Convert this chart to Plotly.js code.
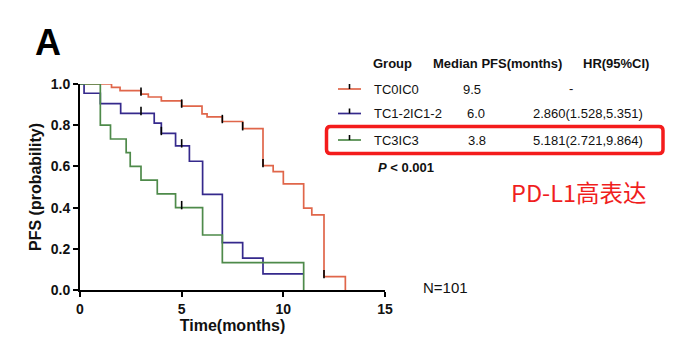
<!DOCTYPE html>
<html>
<head>
<meta charset="utf-8">
<script src="https://cdn.plot.ly/plotly-3.0.1.min.js"></script>
<style>html,body{margin:0;padding:0;background:#fff;}#chart{width:676px;height:351px;}</style>
</head>
<body>
<div id="chart"></div>
<script>
// ---- data ----
const redT   = [0, 1.55, 1.97, 3.0, 3.36, 4.0, 5.0, 6.0, 6.25, 7.0, 8.0, 9.0, 9.5, 10.0, 11.0, 11.4, 12.0, 13.05];
const redS   = [1.0, 0.984, 0.968, 0.951, 0.937, 0.918, 0.893, 0.855, 0.84, 0.818, 0.783, 0.604, 0.575, 0.515, 0.397, 0.365, 0.065, 0.0];
const blueT  = [0, 0.2, 1.0, 2.0, 3.65, 4.0, 4.7, 5.38, 6.03, 7.0, 8.0, 9.0, 11.0];
const blueS  = [1.0, 0.955, 0.905, 0.857, 0.81, 0.76, 0.70, 0.625, 0.464, 0.23, 0.155, 0.078, 0.078];
const greenT = [0, 1.0, 1.5, 2.27, 2.47, 3.0, 3.8, 4.7, 6.03, 7.0, 11.0];
const greenS = [1.0, 0.8, 0.733, 0.667, 0.6, 0.533, 0.467, 0.4, 0.267, 0.133, 0.0];

const redCT = [3.0, 5.0, 7.0, 8.0, 9.0, 12.0];
const redCS = [0.951, 0.893, 0.818, 0.783, 0.604, 0.065];
const blueCT = [3.0, 4.0, 5.0];
const blueCS = [0.857, 0.76, 0.70];
const greenCT = [5.0];
const greenCS = [0.4];

const groups   = ["TC0IC0", "TC1-2IC1-2", "TC3IC3"];
const medians  = ["9.5", "6.0", "3.8"];
const hrs      = ["-", "2.860(1.528,5.351)", "5.181(2.721,9.864)"];
const headers  = ["Group", "Median PFS(months)", "HR(95%CI)"];
const xTicks   = [0, 5, 10, 15];
const yTicks   = [0, 0.2, 0.4, 0.6, 0.8, 1.0];
const yTickText = ["0.0", "0.2", "0.4", "0.6", "0.8", "1.0"];

// ---- styling ----
const colors = ["#E0664A", "#35298C", "#4E8A4A"];
const FONT = "Arial, 'Liberation Sans', sans-serif";
const L = 80, R = 291, T = 84, B = 61, W = 676, H = 351;
const pw = W - L - R, ph = H - T - B;
const px = x => (x - L) / pw;
const py = y => (H - B - y) / ph;

function curve(t, s, c) {
  return {x: t, y: s, type: 'scatter', mode: 'lines', line: {shape: 'hv', color: c, width: 1.7},
          cliponaxis: false, hoverinfo: 'skip', showlegend: false};
}
function cens(t, s) {
  return {x: t, y: s.map(v => v + 0.012), type: 'scatter', mode: 'markers', cliponaxis: false,
          marker: {symbol: 'line-ns', size: 6, line: {color: '#000', width: 1.6}}, hoverinfo: 'skip', showlegend: false};
}

const data = [
  curve(redT, redS, colors[0]),
  curve(blueT, blueS, colors[1]),
  curve(greenT, greenS, colors[2]),
  cens(redCT, redCS), cens(blueCT, blueCS), cens(greenCT, greenCS)
];

const annotations = [];
const shapes = [];
function txt(text, x, y, size, opts) {
  annotations.push(Object.assign({text: text, xref: 'paper', yref: 'paper', x: px(x), y: py(y),
    showarrow: false, xanchor: 'left', yanchor: 'middle',
    font: {family: FONT, size: size, color: '#111'}}, opts || {}));
}
// panel letter
txt("A", 33, 42, 36, {font: {family: FONT, size: 36, color: '#000', weight: 700}});
// table header
const hx = [371, 431, 581];
headers.forEach((h, i) => txt(h, hx[i], 63, 13, {font: {family: FONT, size: 13, color: '#111', weight: 700}}));
// rows
const rowY = [89, 113.5, 140];
const medX = [472, 476, 477];
groups.forEach((g, i) => {
  shapes.push({type: 'line', xref: 'paper', yref: 'paper', x0: px(338), x1: px(361), y0: py(rowY[i]), y1: py(rowY[i]),
               line: {color: colors[i], width: 1.7}});
  shapes.push({type: 'line', xref: 'paper', yref: 'paper', x0: px(349.5), x1: px(349.5), y0: py(rowY[i]), y1: py(rowY[i] - 5),
               line: {color: '#000', width: 1.6}});
  txt(g, 372, rowY[i], 13);
  txt(medians[i], medX[i], rowY[i], 13, {xanchor: 'center'});
  if (hrs[i] === "-") txt(hrs[i], 571, rowY[i] - 1, 13, {xanchor: 'center'});
  else txt(hrs[i], 645, rowY[i], 13, {xanchor: 'right'});
});
txt("<i>P</i> &lt; 0.001", 376, 167, 13, {font: {family: FONT, size: 13, color: '#111', weight: 700}});
txt("PD-L1高表达", 509, 192, 23.5, {font: {family: "'Noto Sans CJK SC', 'Noto Sans', sans-serif", size: 23.5, color: '#F01E1E'}});
txt("N=101", 421, 287, 15);

// rounded red rectangle
(function () {
  const x0 = 326.5, x1 = 663, y0 = 126.5, y1 = 153.5, r = 4;
  const X = v => px(v).toFixed(5), Y = v => py(v).toFixed(5);
  const p = `M${X(x0 + r)},${Y(y0)} L${X(x1 - r)},${Y(y0)} Q${X(x1)},${Y(y0)} ${X(x1)},${Y(y0 + r)} ` +
            `L${X(x1)},${Y(y1 - r)} Q${X(x1)},${Y(y1)} ${X(x1 - r)},${Y(y1)} ` +
            `L${X(x0 + r)},${Y(y1)} Q${X(x0)},${Y(y1)} ${X(x0)},${Y(y1 - r)} ` +
            `L${X(x0)},${Y(y0 + r)} Q${X(x0)},${Y(y0)} ${X(x0 + r)},${Y(y0)} Z`;
  shapes.push({type: 'path', xref: 'paper', yref: 'paper', path: p, line: {color: '#F41C1C', width: 3.5}});
})();

const axisCommon = {showline: true, linecolor: '#000', linewidth: 2, ticks: 'outside', ticklen: 5, tickwidth: 2,
  tickcolor: '#000', showgrid: false, zeroline: false, fixedrange: true,
  tickfont: {family: FONT, size: 14, color: '#111', weight: 700}};

const layout = {
  width: W, height: H, margin: {l: L, r: R, t: T, b: B, pad: 0},
  paper_bgcolor: '#fff', plot_bgcolor: '#fff', showlegend: false,
  xaxis: Object.assign({}, axisCommon, {range: [0, 15], tickvals: xTicks, ticktext: xTicks.map(String),
    title: {text: 'Time(months)', standoff: 4, font: {family: FONT, size: 16, color: '#111', weight: 700}}}),
  yaxis: Object.assign({}, axisCommon, {range: [0, 1], tickvals: yTicks, ticktext: yTickText,
    title: {text: 'PFS (probability)', standoff: 5, font: {family: FONT, size: 16, color: '#111', weight: 700}}}),
  annotations: annotations, shapes: shapes
};

Plotly.newPlot('chart', data, layout, {displayModeBar: false, staticPlot: true});
</script>
</body>
</html>
